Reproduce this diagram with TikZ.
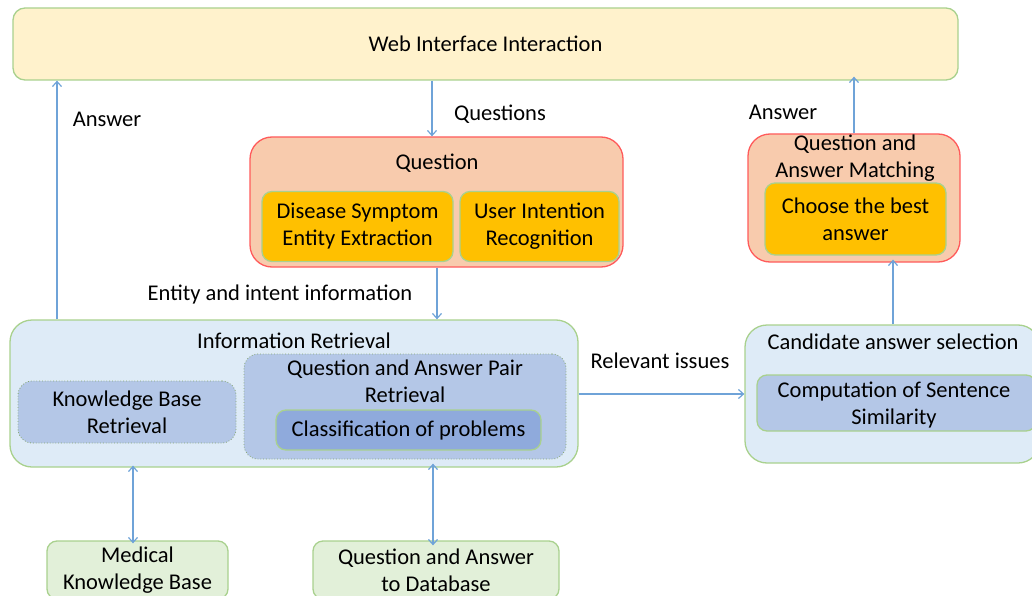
\documentclass[tikz,border=0pt]{standalone}
\usepackage{fontspec}
\setmainfont{Carlito}
\usetikzlibrary{arrows.meta}
\definecolor{webfill}{HTML}{FFF2CC}
\definecolor{greenline}{HTML}{A9D18E}
\definecolor{peach}{HTML}{F8CBAD}
\definecolor{redline}{HTML}{FF5B5B}
\definecolor{gold}{HTML}{FFC000}
\definecolor{paleblue}{HTML}{DEEBF7}
\definecolor{midblue}{HTML}{B4C7E7}
\definecolor{deepblue}{HTML}{8FAADC}
\definecolor{palegreen}{HTML}{E2F0D9}
\definecolor{arrowblue}{HTML}{6FA3D8}

\begin{document}
\begin{tikzpicture}[x=1pt,y=-1pt,
    every node/.style={font=\fontsize{22.5}{27}\selectfont,align=center,inner sep=0pt},
    box/.style={draw=greenline,line width=1.3pt,rounded corners=10pt},
    outerq/.style={draw=redline,fill=peach,line width=1.3pt,rounded corners=22pt},
    goldbox/.style={box,fill=gold},
    bluegroup/.style={box,fill=paleblue,rounded corners=22pt},
    dotbox/.style={draw=greenline!80!black,fill=midblue,dotted,line width=0.8pt,rounded corners=14pt},
    store/.style={box,fill=palegreen},
    arr/.style={draw=arrowblue,line width=1.2pt,-{Straight Barb[length=5pt,width=9pt]}},
    dbl/.style={arr,{Straight Barb[length=5pt,width=9pt]}-{Straight Barb[length=5pt,width=9pt]}}]
    \useasboundingbox (0,0) rectangle (1032,596);
    \clip (0,0) rectangle (1032,596);

    % top
    \node[box,fill=webfill,rounded corners=12pt,minimum width=945pt,minimum height=72pt] (web) at (485.5,44) {Web Interface Interaction};

    % question analysis
    \node[outerq,minimum width=373pt,minimum height=130pt] (question) at (436.5,202) {};
    \node (questiontitle) at (437,163) {Question};
    \node[goldbox,minimum width=191pt,minimum height=70pt] (symptom) at (357.5,226.5) {Disease Symptom\\Entity Extraction};
    \node[goldbox,minimum width=159pt,minimum height=70pt] (intent) at (539.5,226.5) {User Intention\\Recognition};

    % matching
    \node[outerq,minimum width=212pt,minimum height=128pt] (matching) at (854,198) {};
    \node (matchingtitle) at (855,158) {Question and\\Answer Matching};
    \node[goldbox,minimum width=181pt,minimum height=72pt] (best) at (855.5,219) {Choose the best\\answer};

    % retrieval
    \node[bluegroup,minimum width=568pt,minimum height=147pt] (retrieval) at (294,393.5) {};
    \node (retrievaltitle) at (294,341) {Information Retrieval};
    \node[dotbox,minimum width=218pt,minimum height=62pt] (kbretrieval) at (127,412) {Knowledge Base\\Retrieval};
    \node[dotbox,minimum width=322pt,minimum height=105pt] (pairretrieval) at (405,406.5) {};
    \node (pairtitle) at (405,381) {Question and Answer Pair\\Retrieval};
    \node[box,fill=deepblue,minimum width=265pt,minimum height=40pt] (classify) at (408.5,430) {Classification of problems};

    % candidates
    \node[bluegroup,minimum width=295pt,minimum height=138pt] (candidate) at (892.5,394) {};
    \node (candidatetitle) at (893,342) {Candidate answer selection};
    \node[box,fill=midblue,minimum width=279pt,minimum height=56pt] (similarity) at (896.5,403) {};
    \node (similaritytext) at (894,405) {Computation of Sentence\\Similarity};

    % stores
    \node[store,minimum width=181pt,minimum height=58pt] (medkb) at (137.5,570) {Medical\\Knowledge Base};
    \node[store,minimum width=246pt,minimum height=58pt] (qadb) at (436,570) {Question and Answer\\to Database};

    % connectors
    \draw[arr] (retrieval.north -| 57,0) -- (web.south -| 57,0);
    \node (answerleft) at (107,119) {Answer};
    \draw[arr] (web.south -| 432,0) -- (question.north -| 432,0);
    \node (questionslabel) at (500,114) {Questions};
    \draw[arr] (question.south -| 437,0) -- (retrieval.north -| 437,0);
    \node (entitylabel) at (280,294) {Entity and intent information};
    \draw[arr] (matching.north -| 854,0) -- ([yshift=4pt]web.south -| 854,0);
    \node (answerright) at (783,112) {Answer};
    \draw[arr] (candidate.north -| 893,0) -- ([yshift=3pt]matching.south -| 893,0);
    \draw[arr] (retrieval.east |- 0,394) -- (candidate.west |- 0,394);
    \node (relevantlabel) at (660,361) {Relevant issues};
    \draw[dbl] ([yshift=2pt]retrieval.south -| 133,0) -- ([yshift=-3pt]medkb.north -| 133,0);
    \draw[dbl] ([yshift=4pt]retrieval.south -| 433,0) -- ([yshift=-5pt]qadb.north -| 433,0);
\end{tikzpicture}
\end{document}
